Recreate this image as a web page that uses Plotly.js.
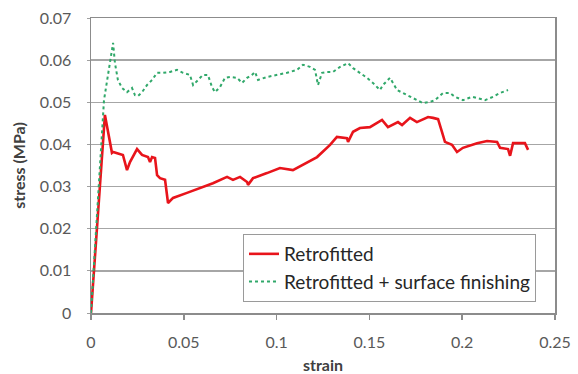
<!DOCTYPE html>
<html>
<head>
<meta charset="utf-8">
<script src="https://cdn.plot.ly/plotly-3.0.1.min.js"></script>
<style>html,body{margin:0;padding:0;background:#fff;}#chart{width:578px;height:374px;}</style>
</head>
<body>
<div id="chart"></div>
<script>
// Retrofitted (solid red)
const retroStrain = [0, 0.0075, 0.0113, 0.0119, 0.0172, 0.0194, 0.0210, 0.0248, 0.0275, 0.0307, 0.0318, 0.0329, 0.0345, 0.0356, 0.0372, 0.0399, 0.0415, 0.0442, 0.0517, 0.0587, 0.0657, 0.0733, 0.0765, 0.0803, 0.0841, 0.0846, 0.0873, 0.0948, 0.1018, 0.1088, 0.1164, 0.1218, 0.1288, 0.1325, 0.1379, 0.1385, 0.1412, 0.1449, 0.1503, 0.1568, 0.1600, 0.1654, 0.1676, 0.1719, 0.1756, 0.1816, 0.1843, 0.1870, 0.1891, 0.1907, 0.1945, 0.1972, 0.2004, 0.2080, 0.2134, 0.2188, 0.2204, 0.2247, 0.2258, 0.2274, 0.2338, 0.2355];
const retroStress = [0, 0.0470, 0.0380, 0.0382, 0.0375, 0.0339, 0.0358, 0.0389, 0.0375, 0.0370, 0.0358, 0.0370, 0.0368, 0.0327, 0.0320, 0.0316, 0.0261, 0.0273, 0.0285, 0.0297, 0.0308, 0.0323, 0.0316, 0.0323, 0.0311, 0.0304, 0.0320, 0.0332, 0.0344, 0.0339, 0.0356, 0.0370, 0.0399, 0.0418, 0.0415, 0.0406, 0.0430, 0.0439, 0.0441, 0.0458, 0.0441, 0.0453, 0.0446, 0.0463, 0.0453, 0.0465, 0.0463, 0.0460, 0.0430, 0.0406, 0.0399, 0.0382, 0.0392, 0.0403, 0.0408, 0.0406, 0.0392, 0.0389, 0.0373, 0.0403, 0.0403, 0.0387];

// Retrofitted + surface finishing (dotted green)
const finishStrain = [0, 0.0070, 0.0119, 0.0129, 0.0145, 0.0167, 0.0194, 0.0221, 0.0237, 0.0253, 0.0275, 0.0302, 0.0329, 0.0356, 0.0388, 0.0426, 0.0463, 0.0496, 0.0533, 0.0550, 0.0577, 0.0603, 0.0630, 0.0652, 0.0668, 0.0695, 0.0722, 0.0749, 0.0787, 0.0814, 0.0841, 0.0867, 0.0884, 0.0900, 0.0948, 0.1002, 0.1056, 0.1110, 0.1142, 0.1180, 0.1207, 0.1223, 0.1245, 0.1272, 0.1304, 0.1342, 0.1385, 0.1412, 0.1449, 0.1487, 0.1519, 0.1557, 0.1573, 0.1611, 0.1627, 0.1649, 0.1681, 0.1719, 0.1756, 0.1789, 0.1827, 0.1853, 0.1897, 0.1934, 0.1961, 0.2004, 0.2053, 0.2096, 0.2123, 0.2166, 0.2204, 0.2247];
const finishStress = [0, 0.0505, 0.0641, 0.0593, 0.0553, 0.0534, 0.0524, 0.0534, 0.0517, 0.0515, 0.0524, 0.0541, 0.0553, 0.0570, 0.0570, 0.0572, 0.0577, 0.0570, 0.0565, 0.0541, 0.0553, 0.0565, 0.0565, 0.0536, 0.0524, 0.0536, 0.0558, 0.0560, 0.0558, 0.0546, 0.0558, 0.0565, 0.0572, 0.0553, 0.0560, 0.0565, 0.0570, 0.0577, 0.0589, 0.0584, 0.0577, 0.0541, 0.0570, 0.0572, 0.0572, 0.0584, 0.0593, 0.0581, 0.0570, 0.0558, 0.0546, 0.0529, 0.0541, 0.0558, 0.0546, 0.0529, 0.0522, 0.0513, 0.0505, 0.0498, 0.0501, 0.0505, 0.0522, 0.0522, 0.0513, 0.0505, 0.0513, 0.0508, 0.0505, 0.0513, 0.0522, 0.0529];

const seriesNames = ["Retrofitted", "Retrofitted + surface finishing"];
const xTickVals = [0, 0.05, 0.1, 0.15, 0.2, 0.25];
const yTickVals = [0, 0.01, 0.02, 0.03, 0.04, 0.05, 0.06, 0.07];

const FONT = "Lato, 'Open Sans', sans-serif";

const traces = [
  {x: retroStrain, y: retroStress, name: seriesNames[0], type: "scatter", mode: "lines",
   line: {color: "#e8141b", width: 2.6}},
  {x: finishStrain, y: finishStress, name: seriesNames[1], type: "scatter", mode: "lines",
   line: {color: "#30a86a", width: 2, dash: "dot"}}
];

const layout = {
  width: 578, height: 374,
  margin: {l: 91, r: 23, t: 18, b: 61},
  paper_bgcolor: "#fff", plot_bgcolor: "#fff",
  font: {family: FONT, color: "#595959", size: 16},
  showlegend: true,
  legend: {
    x: 0.3276, y: 0.2678, xanchor: "left", yanchor: "top",
    bgcolor: "#fff", bordercolor: "#9a9a9a", borderwidth: 1,
    font: {family: FONT, size: 19, color: "#262626"}
  },
  xaxis: {
    range: [0, 0.25], tickvals: xTickVals, ticks: "outside", ticklen: 5, tickwidth: 1.5, tickcolor: "#8c8c8c",
    showline: true, linecolor: "#8c8c8c", linewidth: 1.5, mirror: true,
    showgrid: false, zeroline: false,
    tickfont: {family: FONT, size: 16, color: "#595959"},
    ticklabelstandoff: 9,
    title: {text: "strain", font: {family: FONT, size: 16, color: "#404040", weight: "bold"}, standoff: 12}
  },
  yaxis: {
    range: [0, 0.07], tickvals: yTickVals, ticks: "outside", ticklen: 3, tickcolor: "#a0a0a0",
    showline: true, linecolor: "#8c8c8c", linewidth: 1.5, mirror: true,
    showgrid: true, gridcolor: "#a6a6a6", gridwidth: 1.5, zeroline: false,
    tickfont: {family: FONT, size: 16, color: "#595959"},
    ticklabelstandoff: 12,
    title: {text: "stress (MPa)", font: {family: FONT, size: 16, color: "#404040", weight: "bold"}, standoff: 10}
  }
};

Plotly.newPlot("chart", traces, layout, {displayModeBar: false, staticPlot: true});
</script>
</body>
</html>
